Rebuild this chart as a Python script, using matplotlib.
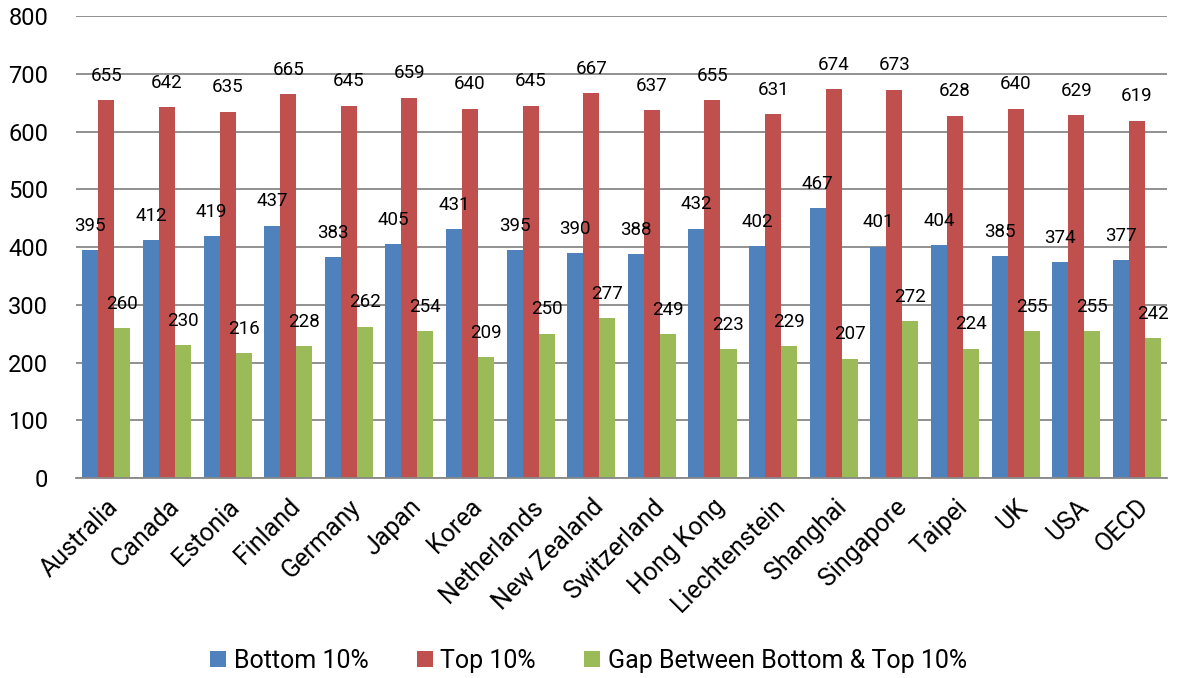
import matplotlib

matplotlib.use("Agg")
import matplotlib.pyplot as plt
import numpy as np

plt.rcParams["font.family"] = ["Roboto", "DejaVu Sans"]

countries = ["Australia", "Canada", "Estonia", "Finland", "Germany", "Japan", "Korea",
             "Netherlands", "New Zealand", "Switzerland", "Hong Kong", "Liechtenstein",
             "Shanghai", "Singapore", "Taipei", "UK", "USA", "OECD"]
bottom10 = [395, 412, 419, 437, 383, 405, 431, 395, 390, 388, 432, 402, 467, 401, 404, 385, 374, 377]
top10 = [655, 642, 635, 665, 645, 659, 640, 645, 667, 637, 655, 631, 674, 673, 628, 640, 629, 619]
gap = [260, 230, 216, 228, 262, 254, 209, 250, 277, 249, 223, 229, 207, 272, 224, 255, 255, 242]

series = [
    ("Bottom 10%", bottom10, "#4F81BD"),
    ("Top 10%", top10, "#C0504D"),
    ("Gap Between Bottom & Top 10%", gap, "#9BBB59"),
]

fig = plt.figure(figsize=(11.77, 6.78), dpi=100)
ax = fig.add_axes([0.0646, 0.295, 0.927, 0.681])

x = np.arange(len(countries))
w = 0.264
for i, (name, vals, col) in enumerate(series):
    pos = x + (i - 1) * w
    ax.bar(pos, vals, w, color=col, label=name, zorder=2)
    for p, v in zip(pos, vals):
        ax.annotate(str(v), (p, v), textcoords="offset points", xytext=(0, 11),
                    ha="center", va="bottom", fontsize=13.5, zorder=3)

ax.set_xlim(-0.5, len(countries) - 0.5)
ax.set_ylim(0, 800)
ax.set_yticks(range(0, 801, 100))
ax.yaxis.grid(True, color="#888888", lw=1.3, zorder=0)
ax.set_axisbelow(True)
for s in ["top", "right", "left"]:
    ax.spines[s].set_visible(False)
ax.spines["bottom"].set_color("#888888")
ax.spines["bottom"].set_linewidth(1.3)
ax.tick_params(axis="y", length=0, labelsize=17, pad=20)
ax.tick_params(axis="x", length=0, labelsize=18, pad=12)
ax.set_xticks(x)
ax.set_xticklabels(countries, rotation=45, ha="right", rotation_mode="anchor")

fig.legend(loc="center", bbox_to_anchor=(0.5, 1 - 661 / 678), ncol=3, frameon=False,
           fontsize=18, handlelength=0.64, handleheight=0.64, handletextpad=0.32,
           columnspacing=1.9)

fig.savefig("out.png", dpi=100)
